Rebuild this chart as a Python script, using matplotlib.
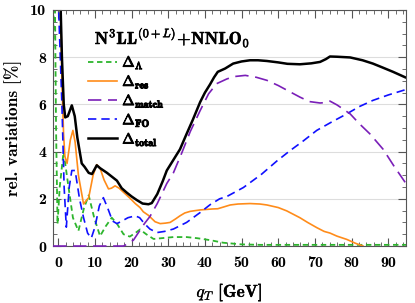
import numpy as np
import matplotlib
matplotlib.use("Agg")
import matplotlib.pyplot as plt
import matplotlib.patheffects as pe
from matplotlib.ticker import MultipleLocator, FuncFormatter

plt.rcParams['font.family'] = 'cmb10'
plt.rcParams['mathtext.fontset'] = 'cm'
plt.rcParams['axes.formatter.use_mathtext'] = True
plt.rcParams['axes.unicode_minus'] = False

GREEN = "#2db52d"
ORANGE = "#ff8c1a"
PURPLE = "#7a1fb8"
BLUE = "#1010ff"
BLACK = "#000000"

# Delta_Lambda
qt_lam = [-1.4, -1.05, -0.6, -0.2, 0.4, 1.45, 2.7, 4.0, 5.5, 7.0, 8.3, 9.8, 11.4, 13.0,
          14.6, 16.0, 17.8, 19.5, 21.0, 22.3, 24.0, 26.0, 28.0, 31.4, 35.0, 38.0, 41.4,
          45.0, 50.0, 55.0, 65.0, 75.0, 85.0, 95.0]
d_lam = [8.0, 13.0, 5.0, 0.93, 2.5, 4.0, 2.6, 1.2, 0.64, 1.6, 2.15, 1.2, 0.42, 0.85,
         1.2, 0.95, 0.5, 0.4, 0.55, 0.7, 0.5, 0.3, 0.33, 0.38, 0.38, 0.33, 0.25,
         0.14, 0.07, 0.05, 0.05, 0.05, 0.05, 0.05]

# Delta_res
qt_res = [0.6, 1.0, 1.45, 1.8, 2.4, 3.3, 4.0, 4.6, 5.5, 6.9, 7.5, 8.3, 9.5, 10.5, 11.4,
          12.5, 13.7, 14.5, 15.5, 16.6, 18.0, 19.6, 21.0, 22.3, 23.2, 24.6, 26.4, 27.8,
          29.2, 30.5, 32.0, 33.2, 34.5, 36.0, 38.7, 42.0, 43.5, 45.0, 46.9, 49.0, 52.3,
          55.0, 56.9, 60.0, 62.3, 65.9, 68.0, 70.5, 72.5, 74.1, 76.0, 78.7, 81.0, 83.1]
d_res = [11.0, 7.0, 4.75, 3.8, 3.5, 4.5, 4.9, 4.4, 3.0, 1.78, 1.9, 2.05, 3.0, 3.45, 3.3,
         2.8, 2.42, 2.45, 2.55, 2.45, 2.25, 2.02, 1.8, 1.63, 1.45, 1.3, 1.03, 0.95,
         0.97, 1.0, 1.15, 1.28, 1.4, 1.47, 1.53, 1.57, 1.58, 1.65, 1.74, 1.78, 1.8,
         1.78, 1.74, 1.63, 1.49, 1.2, 1.0, 0.78, 0.62, 0.55, 0.42, 0.28, 0.12, 0.0]

# Delta_match
qt_match = [-1.4, 17.8, 19.0, 20.5, 22.0, 23.5, 25.0, 27.0, 29.6, 31.4, 33.7, 36.0, 38.7,
            41.0, 43.2, 46.0, 48.0, 51.0, 54.0, 56.9, 60.0, 63.0, 65.9, 68.5, 71.4,
            73.0, 74.1, 76.0, 79.6, 82.0, 85.0, 88.6, 91.5, 94.6]
d_match = [0.0, 0.0, 0.1, 0.25, 0.6, 0.95, 1.25, 1.8, 2.65, 3.1, 3.95, 4.85, 5.74,
           6.45, 6.88, 7.08, 7.18, 7.23, 7.15, 7.02, 6.8, 6.55, 6.31, 6.12, 6.06,
           6.08, 6.14, 5.98, 5.6, 5.2, 4.75, 4.1, 3.4, 2.7]

# Delta_FO
qt_fo = [0.0, 1.0, 1.6, 2.2, 3.0, 3.7, 4.6, 5.8, 6.9, 8.0, 9.0, 10.0, 11.2, 12.3, 13.5,
         14.8, 16.0, 17.4, 19.0, 21.0, 22.2, 23.5, 25.0, 26.9, 29.0, 31.4, 35.0, 38.7,
         41.4, 44.0, 46.0, 50.5, 55.5, 59.6, 63.2, 66.8, 70.5, 74.5, 78.7, 82.0, 85.8,
         90.0, 94.6]
d_fo = [10.5, 6.0, 2.5, 0.8, 2.5, 3.2, 3.2, 2.0, 1.2, 0.55, 0.33, 0.8, 1.7, 2.05, 1.6,
        1.06, 0.95, 1.06, 1.2, 1.28, 1.2, 0.95, 0.72, 0.57, 0.62, 0.72, 1.0, 1.42,
        1.75, 2.0, 2.1, 2.48, 3.05, 3.6, 4.04, 4.45, 4.9, 5.25, 5.6, 5.9, 6.17,
        6.4, 6.62]

# Delta_total
qt_tot = [0.5, 1.0, 1.5, 1.9, 2.6, 3.7, 4.5, 5.2, 6.4, 7.2, 8.3, 9.2, 10.5, 11.4, 13.3,
          16.0, 17.3, 18.7, 20.0, 21.4, 23.0, 24.6, 25.5, 27.0, 28.5, 29.6, 31.4, 33.2,
          35.0, 36.7, 38.7, 40.0, 41.4, 42.5, 43.5, 44.5, 45.5, 47.7, 50.0, 52.3, 54.5,
          56.9, 60.0, 62.5, 65.9, 69.0, 71.4, 73.0, 74.1, 76.0, 79.6, 83.0, 85.8, 88.5,
          91.3, 94.6]
d_tot = [11.0, 8.0, 6.0, 5.45, 5.5, 5.96, 5.5, 4.6, 3.5, 3.35, 3.1, 3.05, 3.42, 3.3, 3.1,
         2.77, 2.45, 2.26, 2.1, 1.95, 1.8, 1.77, 1.82, 2.2, 2.75, 3.2, 3.65, 4.1,
         4.75, 5.35, 6.1, 6.5, 6.85, 7.15, 7.38, 7.45, 7.52, 7.73, 7.82, 7.87, 7.87,
         7.84, 7.78, 7.72, 7.70, 7.74, 7.8, 7.92, 8.03, 8.02, 7.99, 7.87, 7.73, 7.56,
         7.38, 7.15]

bold = [pe.withStroke(linewidth=0.7, foreground='black')]

fig = plt.figure(figsize=(4.15, 3.03), dpi=100)
ax = fig.add_axes([0.128, 0.188, 0.85, 0.779])

ax.plot(qt_lam, d_lam, color=GREEN, lw=1.3, ls=(0, (3, 2)), label=r'$\mathbf{\Delta}_{\mathbf{\Lambda}}$')
ax.plot(qt_res, d_res, color=ORANGE, lw=1.2, ls='-', label=r'$\mathbf{\Delta}_{\mathbf{res}}$')
ax.plot(qt_match, d_match, color=PURPLE, lw=1.2, ls=(0, (8, 4)), clip_on=False, zorder=3,
        label=r'$\mathbf{\Delta}_{\mathbf{match}}$')
ax.plot(qt_fo, d_fo, color=BLUE, lw=1.2, ls=(0, (5, 3)), label=r'$\mathbf{\Delta}_{\mathbf{FO}}$')
ax.plot(qt_tot, d_tot, color=BLACK, lw=1.8, ls='-', label=r'$\mathbf{\Delta}_{\mathbf{total}}$')

ax.set_xlim(-1.4, 94.8)
ax.set_ylim(0, 10)
ax.xaxis.set_major_locator(MultipleLocator(10))
ax.xaxis.set_minor_locator(MultipleLocator(2))
ax.yaxis.set_major_locator(MultipleLocator(2))
ax.yaxis.set_minor_locator(MultipleLocator(0.5))
ax.xaxis.set_major_formatter(FuncFormatter(lambda v, p: '%d' % v))
ax.yaxis.set_major_formatter(FuncFormatter(lambda v, p: '%d' % v))
ax.tick_params(which='both', direction='in', top=True, right=True, colors='#555555',
               labelcolor='black', labelsize=11.5)
ax.tick_params(axis='x', which='major', pad=7)
ax.tick_params(axis='y', which='major', pad=5)
ax.tick_params(which='major', length=6, width=0.8)
ax.tick_params(which='minor', length=3, width=0.6)
for s in ax.spines.values():
    s.set_color('#555555')
ax.yaxis.grid(True, which='major', color='#dddddd', lw=0.8)
ax.set_axisbelow(True)

ax.set_xlabel(r'$q_T$ [GeV]', fontsize=12.5, labelpad=8,
              path_effects=[pe.withStroke(linewidth=0.2, foreground='black')])
ax.set_ylabel('rel. variations [%]', fontsize=12.5, labelpad=6)

ax.text(0.118, 0.856, r'$\mathbf{N^3LL^{(0+\mathit{L})}\!+\!NNLO_0}$', transform=ax.transAxes,
        fontsize=12.5, ha='left', va='baseline',
        path_effects=[pe.withStroke(linewidth=0.4, foreground='black')])

leg = ax.legend(loc='upper left', bbox_to_anchor=(0.099, 0.815), frameon=False,
                fontsize=10.5, handlelength=2.0, handletextpad=0.35, labelspacing=0.12,
                borderpad=0.0, borderaxespad=0.0)
for t in leg.get_texts():
    t.set_path_effects(bold)

fig.savefig("out.png", dpi=100)
